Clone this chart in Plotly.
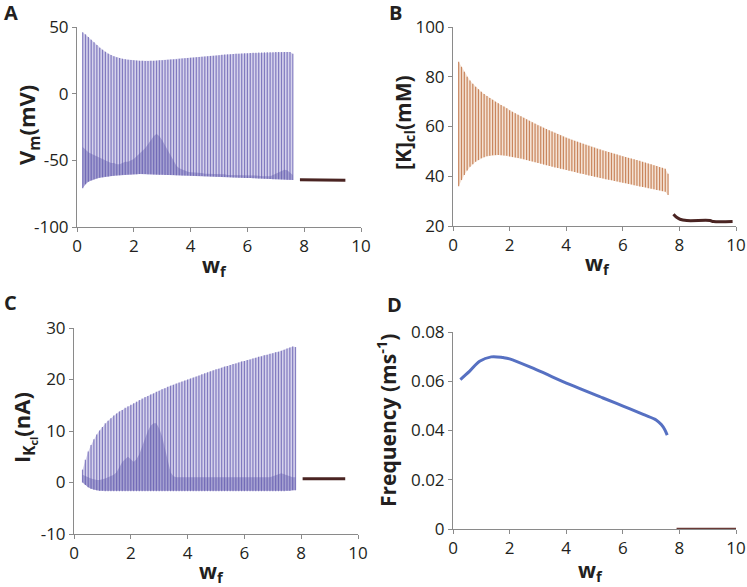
import plotly.graph_objects as go

W, H = 747, 587

# ---------------- data ----------------
spike_w = [0.2, 0.3, 0.4, 0.5, 0.6, 0.7, 0.8, 0.9, 1.0, 1.1,
           1.2, 1.3, 1.4, 1.5, 1.6, 1.7, 1.8, 1.9, 2.0, 2.1,
           2.2, 2.3, 2.4, 2.5, 2.6, 2.7, 2.8, 2.9, 3.0, 3.1,
           3.2, 3.3, 3.4, 3.5, 3.6, 3.7, 3.8, 3.9, 4.0, 4.1,
           4.2, 4.3, 4.4, 4.5, 4.6, 4.7, 4.8, 4.9, 5.0, 5.1,
           5.2, 5.3, 5.4, 5.5, 5.6, 5.7, 5.8, 5.9, 6.0, 6.1,
           6.2, 6.3, 6.4, 6.5, 6.6, 6.7, 6.8, 6.9, 7.0, 7.1,
           7.2, 7.3, 7.4, 7.5, 7.6]

vm_upper = [46, 44.5, 42.5, 40.5, 38.5, 36.5, 34.5, 33, 31.5, 30,
            29, 28, 27.3, 26.7, 26.2, 25.8, 25.5, 25.2, 25, 24.8,
            24.7, 24.6, 24.5, 24.5, 24.6, 24.7, 24.8, 25, 25.1, 25.3,
            25.4, 25.6, 25.7, 25.9, 26.1, 26.3, 26.5, 26.7, 26.9, 27.1,
            27.3, 27.5, 27.7, 27.9, 28.1, 28.3, 28.5, 28.7, 28.9, 29.1,
            29.3, 29.5, 29.6, 29.8, 29.9, 30, 30.2, 30.3, 30.4, 30.5,
            30.6, 30.7, 30.8, 30.9, 31, 31, 31.1, 31.1, 31.2, 31.2,
            31.2, 31.3, 31.3, 31.2, 30]
vm_lower = [-71, -68, -66, -65, -64.2, -63.6, -63.1, -62.7, -62.4, -62.1,
            -61.8, -61.5, -61.3, -61.1, -60.9, -60.8, -60.7, -60.6, -60.5, -60.4,
            -60.3, -60.3, -60.3, -60.4, -60.5, -60.6, -60.7, -60.8, -60.9, -61,
            -61, -61, -61, -61.1, -61.2, -61.3, -61.3, -61.4, -61.5, -61.6,
            -61.7, -61.7, -61.8, -61.9, -62, -62.1, -62.2, -62.3, -62.4, -62.5,
            -62.5, -62.6, -62.7, -62.8, -62.9, -63, -63.1, -63.2, -63.3, -63.3,
            -63.4, -63.5, -63.6, -63.7, -63.8, -63.9, -64, -64.1, -64.1, -64.2,
            -64.3, -64.4, -64.5, -64.6, -64.8]
vm_core = [-40, -42, -44, -45, -46, -47, -48, -49, -50, -51,
           -52, -52, -53, -53, -52, -51, -51, -50, -49, -47,
           -45, -43, -41, -38, -35, -32, -30, -32, -35, -39,
           -43, -47, -51, -54, -56, -57, -58, -58.5, -59, -59,
           -59, -59.5, -59.5, -60, -60, -60, -60, -60.5, -60.5, -60.5,
           -60.5, -61, -61, -61, -61, -61, -61.5, -61.5, -61.5, -61.5,
           -61.5, -61.5, -61.5, -62, -62, -62, -62, -61, -60, -59,
           -58, -57, -57.5, -59, -61]

k_upper = [86, 84, 82, 80, 78.5, 77.2, 76, 75, 74, 73.1,
           72.3, 71.5, 70.8, 70, 69.3, 68.6, 68, 67.3, 66.5, 65.9,
           65.3, 64.7, 64.1, 63.5, 62.9, 62.3, 61.7, 61.1, 60.5, 60,
           59.5, 59, 58.5, 58, 57.5, 57, 56.5, 56, 55.5, 55.1,
           54.7, 54.3, 53.9, 53.5, 53.1, 52.7, 52.3, 51.9, 51.5, 51.1,
           50.8, 50.4, 50.1, 49.7, 49.4, 49, 48.7, 48.3, 48, 47.7,
           47.4, 47.1, 46.8, 46.5, 46.2, 45.8, 45.5, 45.1, 44.8, 44.4,
           44.1, 43.7, 43.4, 43, 41]
k_lower = [36, 38.5, 40.5, 42.3, 43.8, 44.8, 45.8, 46.5, 47.2, 47.6,
           48, 48.2, 48.4, 48.5, 48.5, 48.4, 48.3, 48.2, 47.9, 47.7,
           47.5, 47.3, 47.1, 46.8, 46.5, 46.2, 45.9, 45.6, 45.3, 45,
           44.7, 44.4, 44.1, 43.8, 43.5, 43.3, 43, 42.8, 42.5, 42.2,
           42, 41.7, 41.4, 41.1, 40.9, 40.6, 40.3, 40.1, 39.8, 39.6,
           39.3, 39.1, 38.8, 38.6, 38.4, 38.1, 37.9, 37.6, 37.4, 37.2,
           36.9, 36.7, 36.4, 36.2, 35.9, 35.7, 35.5, 35.2, 35, 34.8,
           34.5, 34.3, 34, 33.8, 32.5]

spike_w_c = [0.3, 0.4, 0.5, 0.6, 0.7, 0.8, 0.9, 1.0, 1.1, 1.2,
             1.3, 1.4, 1.5, 1.6, 1.7, 1.8, 1.9, 2.0, 2.1, 2.2,
             2.3, 2.4, 2.5, 2.6, 2.7, 2.8, 2.9, 3.0, 3.1, 3.2,
             3.3, 3.4, 3.5, 3.6, 3.7, 3.8, 3.9, 4.0, 4.1, 4.2,
             4.3, 4.4, 4.5, 4.6, 4.7, 4.8, 4.9, 5.0, 5.1, 5.2,
             5.3, 5.4, 5.5, 5.6, 5.7, 5.8, 5.9, 6.0, 6.1, 6.2,
             6.3, 6.4, 6.5, 6.6, 6.7, 6.8, 6.9, 7.0, 7.1, 7.2,
             7.3, 7.4, 7.5, 7.6, 7.7, 7.8]
i_upper = [2.5, 4.4, 6, 7.3, 8.4, 9.3, 10.1, 10.8, 11.5, 12,
           12.5, 13, 13.4, 13.8, 14.1, 14.5, 14.8, 15.1, 15.4, 15.7,
           16, 16.3, 16.6, 16.8, 17.1, 17.3, 17.6, 17.8, 18.1, 18.3,
           18.6, 18.8, 19, 19.2, 19.4, 19.6, 19.8, 20, 20.2, 20.4,
           20.6, 20.8, 21, 21.2, 21.4, 21.6, 21.8, 22, 22.1, 22.3,
           22.5, 22.6, 22.8, 23, 23.1, 23.3, 23.5, 23.6, 23.8, 23.9,
           24.1, 24.2, 24.4, 24.5, 24.7, 24.8, 25, 25.1, 25.3, 25.4,
           25.6, 25.8, 26, 26.2, 26.4, 26.3]
i_lower = [0, -0.5, -0.9, -1.2, -1.4, -1.5, -1.6, -1.6, -1.7, -1.7,
           -1.7, -1.7, -1.7, -1.7, -1.7, -1.7, -1.7, -1.7, -1.7, -1.7,
           -1.7, -1.7, -1.7, -1.7, -1.7, -1.7, -1.7, -1.7, -1.7, -1.7,
           -1.7, -1.7, -1.7, -1.7, -1.7, -1.7, -1.7, -1.7, -1.7, -1.7,
           -1.7, -1.7, -1.7, -1.7, -1.7, -1.7, -1.7, -1.7, -1.7, -1.7,
           -1.7, -1.7, -1.7, -1.7, -1.7, -1.7, -1.7, -1.7, -1.7, -1.7,
           -1.7, -1.7, -1.7, -1.7, -1.7, -1.7, -1.7, -1.7, -1.7, -1.7,
           -1.7, -1.7, -1.6, -1.6, -1.5, -1.5]
i_core = [1.5, 1.2, 1, 0.8, 0.6, 0.5, 0.5, 0.6, 0.8, 1,
          1.2, 1.5, 2, 3, 4, 4.5, 5, 4.5, 4, 4.5,
          5.5, 7, 8.5, 10, 11, 11.5, 11.5, 10.5, 9, 6.5,
          4, 2, 1.2, 1, 1, 1, 1, 1, 1, 1,
          1, 1, 1, 1, 1, 1, 1, 1, 1, 1,
          1, 1, 1, 1, 1, 1, 1, 1, 1, 1,
          1, 1, 1, 1, 1, 1, 1, 1.2, 1.4, 1.6,
          1.8, 1.6, 1.4, 1.2, 1.0, 1.0]

freq_w = [0.26, 0.59, 0.94, 1.35, 1.77, 2.0, 2.94, 4.12, 5.30, 6.01, 6.72, 7.19, 7.36, 7.48, 7.57]
freq = [0.0607, 0.0641, 0.0681, 0.0699, 0.0696, 0.0691, 0.0647, 0.0587, 0.0532, 0.0499,
        0.0465, 0.0442, 0.0424, 0.0404, 0.0381]

rest_w_a = [7.85, 9.45]
rest_vm = [-64.6, -65.0]
rest_w_b = [7.79, 7.9, 8.02, 8.26, 9.08, 9.2, 9.88]
rest_k = [24.7, 23.5, 22.7, 22.2, 22.2, 21.8, 21.8]
rest_w_c = [8.05, 9.55]
rest_i = [0.75, 0.75]
rest_w_d = [7.9, 10.0]
rest_f = [0.0, 0.0]

# ---------------- styling ----------------
PURPLE_FILL = "#d6d3ec"
PURPLE_LINE = "rgba(92,84,172,0.7)"
PURPLE_CORE = "rgba(88,78,165,0.38)"
ORANGE_FILL = "#f4e2d4"
ORANGE_LINE = "rgba(190,110,62,0.8)"
BROWN = "#4a2422"
BLUE = "#5670c2"
FONT = "Open Sans"

fig = go.Figure()


def spikes(xs, lo, hi, color, width, xa, ya):
    X, Y = [], []
    for x, a, b in zip(xs, lo, hi):
        X += [x, x, None]
        Y += [a, b, None]
    fig.add_trace(go.Scatter(x=X, y=Y, mode="lines", line=dict(color=color, width=width),
                             xaxis=xa, yaxis=ya, hoverinfo="skip", showlegend=False))


def band(xs, lo, hi, color, xa, ya):
    fig.add_trace(go.Scatter(x=xs, y=lo, mode="lines", line=dict(width=0), xaxis=xa, yaxis=ya,
                             hoverinfo="skip", showlegend=False))
    fig.add_trace(go.Scatter(x=xs, y=hi, mode="lines", line=dict(width=0), fill="tonexty",
                             fillcolor=color, xaxis=xa, yaxis=ya, hoverinfo="skip", showlegend=False))


# Panel A
band(spike_w, vm_lower, vm_upper, PURPLE_FILL, "x", "y")
band(spike_w, vm_lower, vm_core, PURPLE_CORE, "x", "y")
spikes(spike_w, vm_lower, vm_upper, PURPLE_LINE, 1.2, "x", "y")
fig.add_trace(go.Scatter(x=rest_w_a, y=rest_vm, mode="lines", line=dict(color=BROWN, width=3),
                         xaxis="x", yaxis="y", showlegend=False))

# Panel B
band(spike_w, k_lower, k_upper, ORANGE_FILL, "x2", "y2")
spikes(spike_w, k_lower, k_upper, ORANGE_LINE, 1.2, "x2", "y2")
fig.add_trace(go.Scatter(x=rest_w_b, y=rest_k, mode="lines", line=dict(color=BROWN, width=3, shape="spline"),
                         xaxis="x2", yaxis="y2", showlegend=False))

# Panel C
band(spike_w_c, i_lower, i_upper, PURPLE_FILL, "x3", "y3")
band(spike_w_c, i_lower, i_core, PURPLE_CORE, "x3", "y3")
spikes(spike_w_c, i_lower, i_upper, PURPLE_LINE, 1.2, "x3", "y3")
fig.add_trace(go.Scatter(x=rest_w_c, y=rest_i, mode="lines", line=dict(color=BROWN, width=3),
                         xaxis="x3", yaxis="y3", showlegend=False))

# Panel D
fig.add_trace(go.Scatter(x=freq_w, y=freq, mode="lines", line=dict(color=BLUE, width=3, shape="spline"),
                         xaxis="x4", yaxis="y4", showlegend=False))
fig.add_trace(go.Scatter(x=rest_w_d, y=rest_f, mode="lines", line=dict(color="#6a3a36", width=2.5),
                         xaxis="x4", yaxis="y4", showlegend=False))


def px(xp):
    return xp / W


def py(yp):
    return 1 - yp / H


axis_common = dict(showline=True, linecolor="#8a8a8a", linewidth=1, ticks="outside", ticklen=4,
                   tickcolor="#8a8a8a", showgrid=False, zeroline=False,
                   tickfont=dict(family=FONT, size=17, color="#231f20"))

xt = [0, 2, 4, 6, 8, 10]
xtt = ["0", "2", "4", "6", "8", "10"]

panels = {
    "": dict(x=(77, 361), y=(27, 227), yr=[-100, 50], yt=[-100, -50, 0, 50],
             ytt=["-100", "-50", "0", "50"]),
    "2": dict(x=(453, 736), y=(27, 226), yr=[20, 100], yt=[20, 40, 60, 80, 100],
              ytt=["20", "40", "60", "80", "100"]),
    "3": dict(x=(74, 358), y=(328, 534), yr=[-10, 30], yt=[-10, 0, 10, 20, 30],
              ytt=["-10", "0", "10", "20", "30"]),
    "4": dict(x=(453, 736), y=(332, 529), yr=[0, 0.08], yt=[0, 0.02, 0.04, 0.06, 0.08],
              ytt=["0", "0.02", "0.04", "0.06", "0.08"]),
}

layout = dict(width=W, height=H, margin=dict(l=0, r=0, t=0, b=0, autoexpand=False),
              plot_bgcolor="white", paper_bgcolor="white", showlegend=False)
for k, p in panels.items():
    layout["xaxis" + k] = dict(axis_common, domain=[px(p["x"][0]), px(p["x"][1])], range=[0, 10],
                               tickvals=xt, ticktext=xtt, anchor="y" + k, automargin=False)
    layout["yaxis" + k] = dict(axis_common, domain=[py(p["y"][1]), py(p["y"][0])], range=p["yr"],
                               tickvals=p["yt"], ticktext=p["ytt"], anchor="x" + k, automargin=False)
fig.update_layout(**layout)

ann = []


def text(s, xp, yp, size, angle=0):
    ann.append(dict(text=s, x=px(xp), y=py(yp), xref="paper", yref="paper", showarrow=False,
                    textangle=angle, xanchor="center", yanchor="middle",
                    font=dict(family=FONT, size=size, color="#231f20")))


# Panel letters
text("<b>A</b>", 11, 12, 20)
text("<b>B</b>", 395, 12, 20)
text("<b>C</b>", 10, 302, 20)
text("<b>D</b>", 394, 304, 20)
# Y titles
text("<b>V<sub>m</sub>(mV)</b>", 28, 125, 22, -90)
text("<b>[K]<sub>cl</sub>(mM)</b>", 404, 122, 21, -90)
text("<b>I<sub>K<sub>cl</sub></sub>(nA)</b>", 23, 428, 22, -90)
text("<b>Frequency (ms<sup>-1</sup>)</b>", 386, 421, 21, -90)
# X titles
text("<b>w<sub>f</sub></b>", 214, 266, 21)
text("<b>w<sub>f</sub></b>", 597, 264, 21)
text("<b>w<sub>f</sub></b>", 211, 572, 21)
text("<b>w<sub>f</sub></b>", 590, 571, 21)

fig.update_layout(annotations=ann)
fig.write_html("out.html", config={"displayModeBar": False},
               post_script="document.body.style.margin='0';document.body.style.padding='0';"
                           "document.body.style.overflow='hidden';")
